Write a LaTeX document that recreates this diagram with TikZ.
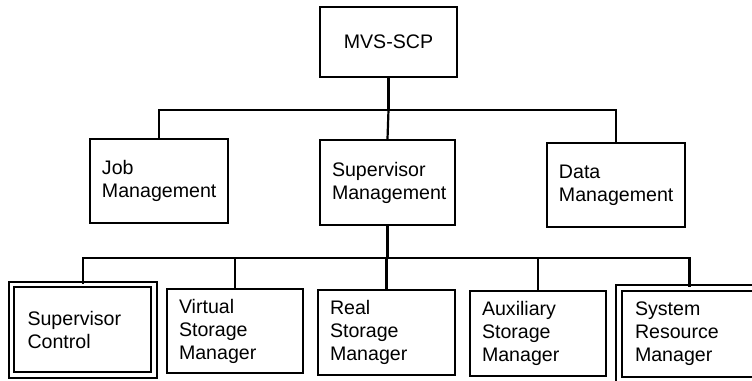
\documentclass[tikz,border=0pt]{standalone}
\usepackage{fontspec}
\setmainfont{Liberation Sans}
\usetikzlibrary{positioning}
\tikzstyle{unit} = [rectangle, draw=black, line width=0.85pt, align=left,
                    inner xsep=6pt, inner ysep=0pt, font=\fontsize{9.8}{11.5}\selectfont]
\tikzstyle{core} = [unit, double, double distance=1.8pt, line width=0.9pt, inner xsep=8pt]
\tikzstyle{link} = [line width=1.1pt]

\begin{document}
\begin{tikzpicture}[x=0.5pt, y=0.5pt]
  \path[use as bounding box, clip] (0,0) rectangle (752,381);

  % top level
  \node (mvs)     [unit, align=center, text width=56.5pt, minimum height=35pt] at (388.5,339) {MVS-SCP};

  % second level
  \node (job)     [unit, text width=57pt,   minimum height=42pt]   at (159,200)   {Job\\Management};
  \node (supmgmt) [unit, text width=55.5pt, minimum height=42.5pt] at (387.5,198.5) {Supervisor\\Management};
  \node (data)    [unit, text width=57pt,   minimum height=42pt]   at (616,196)   {Data\\Management};

  % third level
  \node (supctl)  [core, text width=55.25pt, minimum height=45.25pt] at (82.75,51.25) {Supervisor\\Control};
  \node (virtual) [unit, text width=56pt,    minimum height=42pt]    at (235,50)     {Virtual\\Storage\\Manager};
  \node (real)    [unit, text width=56.5pt,  minimum height=42.5pt]  at (386.5,48.5) {Real\\Storage\\Manager};
  \node (aux)     [unit, text width=56pt,    minimum height=42.5pt]  at (538,47.5)   {Auxiliary\\Storage\\Manager};
  \node (sysres)  [core, text width=54.5pt,  minimum height=46pt]    at (689.5,47)   {System\\Resource\\Manager};

  \coordinate (bus1) at (mvs.south |- 0,271);
  \coordinate (bus2) at (supmgmt.south |- 0,123);

  \draw[link] (mvs.south) -- (bus1);
  \draw[link] (job.north) |- (bus1) -| (data.north);
  \draw[link] (bus1) -- (supmgmt.north);

  \draw[link] (supmgmt.south) -- (bus2);
  \draw[link] (supctl.north) |- (bus2) -| (sysres.north);
  \foreach \n in {virtual, real, aux}
    \draw[link] (\n.north) -- (\n.north |- bus2);
\end{tikzpicture}
\end{document}
